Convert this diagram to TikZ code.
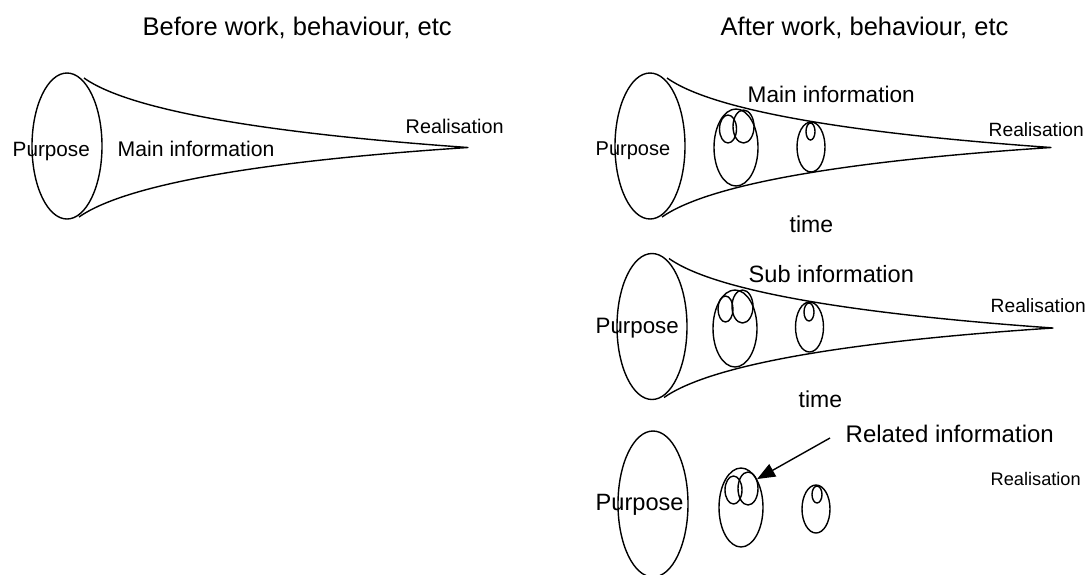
\documentclass[tikz,border=0pt]{standalone}
\usepackage{fontspec}
\setmainfont{Liberation Sans}
\usetikzlibrary{arrows.meta,shapes.geometric}
\newcommand{\fsz}[1]{\fontsize{#1}{#1}\selectfont}

\begin{document}
\begin{tikzpicture}[x=1pt,y=-1pt,line width=1.4pt,
    txt/.style={inner sep=0,anchor=base west},
    blob/.style={draw,ellipse,inner sep=0},
    funnel/.style={line join=round},
    pointer/.style={-{Triangle[length=18pt,width=14pt]},line width=1.4pt}]
  \useasboundingbox (0,0) rectangle (1092,574);
  % titles
  \node[txt,font=\fsz{25.5}] (before) at (142,35.5) {Before work, behaviour, etc};
  \node[txt,font=\fsz{25.5}] (after) at (720,35.5) {After work, behaviour, etc};
  % funnels: purpose ellipse + horn to realisation
  \foreach \cx/\cy in {67/146, 650/146, 652/326.5}{
    \draw[funnel] (\cx,\cy) ellipse (35 and 73);
    \draw[funnel] (\cx+17,\cy-68) .. controls (\cx+65,\cy-34) and (\cx+210,\cy-12) .. (\cx+401,\cy+1.5)
      .. controls (\cx+210,\cy+14) and (\cx+62,\cy+36) .. (\cx+12,\cy+71);
  }
  \draw (653,504) ellipse (35 and 73);
  % before
  \node[txt,font=\fsz{20.7}] (purp0) at (12,156) {Purpose};
  \node[txt,font=\fsz{21.2}] (main0) at (117,156) {Main information};
  \node[txt,font=\fsz{19.8}] (real0) at (405,133) {Realisation};
  % after: main information
  \node[blob,minimum width=44,minimum height=77] (bigA) at (736,147.5) {};
  \node[blob,minimum width=17,minimum height=28] (subA1) at (728,129) {};
  \node[blob,minimum width=21,minimum height=33] (subA2) at (743.5,126.5) {};
  \node[blob,minimum width=28,minimum height=50] (midA) at (811,147) {};
  \node[blob,minimum width=9,minimum height=17] (tinyA) at (810.5,131.5) {};
  \node[txt,font=\fsz{20}] (purp1) at (595,155) {Purpose};
  \node[txt,font=\fsz{22.6}] (main1) at (747,102) {Main information};
  \node[txt,font=\fsz{19.2}] (real1) at (988,136) {Realisation};
  \node[txt,font=\fsz{23}] (time1) at (789,232) {time};
  % after: sub information
  \node[blob,minimum width=44,minimum height=77] (bigB) at (735,328.5) {};
  \node[blob,minimum width=15,minimum height=26] (subB1) at (725.5,309) {};
  \node[blob,minimum width=21,minimum height=33] (subB2) at (742.5,306.5) {};
  \node[blob,minimum width=28,minimum height=50] (midB) at (809.5,327) {};
  \node[blob,minimum width=10,minimum height=18] (tinyB) at (809,312) {};
  \node[txt,font=\fsz{22.3}] (purp2) at (595,333) {Purpose};
  \node[txt,font=\fsz{23.6}] (sub2) at (748,282) {Sub information};
  \node[txt,font=\fsz{19.2}] (real2) at (990,312) {Realisation};
  \node[txt,font=\fsz{23}] (time2) at (798,407) {time};
  % after: related information
  \node[blob,minimum width=44,minimum height=79] (bigC) at (741,507.5) {};
  \node[blob,minimum width=17,minimum height=28] (subC1) at (733.5,490) {};
  \node[blob,minimum width=20,minimum height=33] (subC2) at (748,488.5) {};
  \node[blob,minimum width=28,minimum height=48] (midC) at (816,509) {};
  \node[blob,minimum width=10,minimum height=17] (tinyC) at (817,494.5) {};
  \node[txt,font=\fsz{23.6}] (purp3) at (595,510) {Purpose};
  \node[txt,font=\fsz{24}] (rel3) at (845,442) {Related information};
  \node[txt,font=\fsz{18.2}] (real3) at (990,485) {Realisation};
  \coordinate (relsrc) at (830,438);
  \draw[pointer] (relsrc) -- (bigC.north east);
\end{tikzpicture}
\end{document}
